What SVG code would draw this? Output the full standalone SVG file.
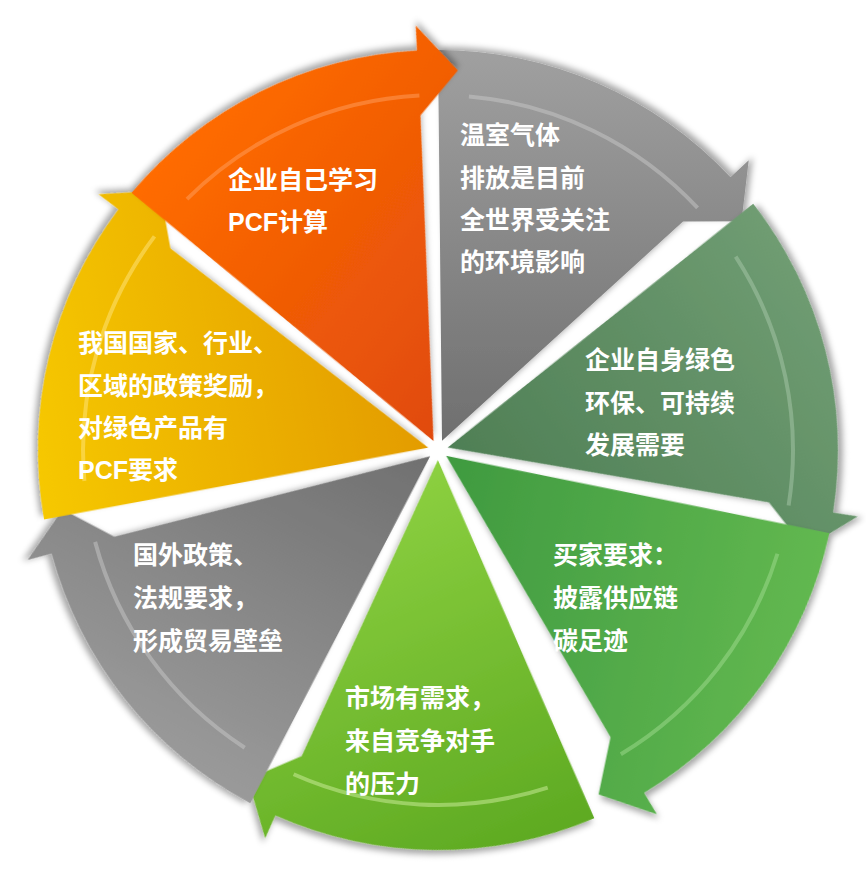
<svg xmlns="http://www.w3.org/2000/svg" width="866" height="869" viewBox="0 0 866 869">
<defs>
<style>
.t{font-family:"Liberation Sans","Noto Sans CJK SC",sans-serif;font-weight:bold;font-size:25px;fill:#fff}
.hl{fill:none;stroke-width:4;stroke-opacity:0.5}
</style>
<filter id="sh" x="-20%" y="-20%" width="140%" height="140%"><feDropShadow dx="3" dy="4" stdDeviation="3" flood-opacity="0.35"/></filter>
<path id="seg" d="M9.2,4 L400,0 A400,400 0 0 1 272.8,292.5 L289.8,310.8 L228.7,303.5 L228.5,245 Z"/>
<path id="arc" d="M353.6,30.9 A355,355 0 0 1 242.1,259.6"/>
<linearGradient id="g0" x1="0" y1="0" x2="1" y2="0"><stop offset="0" stop-color="#6f6f6f"/><stop offset="1" stop-color="#a0a0a0"/></linearGradient>
<linearGradient id="g1" x1="0" y1="0" x2="1" y2="0"><stop offset="0" stop-color="#4f7f55"/><stop offset="1" stop-color="#6f9c72"/></linearGradient>
<linearGradient id="g2" x1="0" y1="0" x2="1" y2="0"><stop offset="0" stop-color="#3f9a40"/><stop offset="1" stop-color="#62b850"/></linearGradient>
<linearGradient id="g3" x1="0" y1="0" x2="1" y2="0"><stop offset="0" stop-color="#8cd040"/><stop offset="1" stop-color="#5eaa22"/></linearGradient>
<linearGradient id="g4" x1="0" y1="0" x2="1" y2="0"><stop offset="0" stop-color="#707070"/><stop offset="1" stop-color="#9a9a9a"/></linearGradient>
<linearGradient id="g5" x1="0" y1="0" x2="1" y2="0"><stop offset="0" stop-color="#e39c00"/><stop offset="1" stop-color="#f6c800"/></linearGradient>
<linearGradient id="g6" x1="0" y1="0" x2="1" y2="0"><stop offset="0" stop-color="#e04a0c"/><stop offset="1" stop-color="#ff6c00"/></linearGradient>
</defs>
<rect width="866" height="869" fill="#fff"/>
<g id="n0" transform="translate(438,450) rotate(-90)"><use href="#seg" fill="url(#g0)" filter="url(#sh)"/><use href="#arc" class="hl" stroke="#c8c8c8"/></g>
<g id="n1" transform="translate(438,450) rotate(-38)"><use href="#seg" fill="url(#g1)" filter="url(#sh)"/><use href="#arc" class="hl" stroke="#a8c8aa"/></g>
<g id="n2" transform="translate(438,450) rotate(12)"><use href="#seg" fill="url(#g2)" filter="url(#sh)"/><use href="#arc" class="hl" stroke="#a0dc90"/></g>
<g id="n3" transform="translate(438,450) rotate(67)"><use href="#seg" fill="url(#g3)" filter="url(#sh)"/><use href="#arc" class="hl" stroke="#d0f0a0"/></g>
<g id="n4" transform="translate(438,450) rotate(118)"><use href="#seg" fill="url(#g4)" filter="url(#sh)"/><use href="#arc" class="hl" stroke="#c8c8c8"/></g>
<g id="n5" transform="translate(438,450) rotate(170)"><use href="#seg" fill="url(#g5)" filter="url(#sh)"/><use href="#arc" class="hl" stroke="#ffe680"/></g>
<g id="n6" transform="translate(438,450) rotate(220)"><use href="#seg" fill="url(#g6)" filter="url(#sh)"/><use href="#arc" class="hl" stroke="#ffa060"/></g>
<g id="connectors"/>
<g id="labels">
<text class="t" x="228" y="189">企业自己学习</text>
<text class="t" x="228" y="231">PCF计算</text>
<text class="t" x="460" y="144">温室气体</text>
<text class="t" x="460" y="187">排放是目前</text>
<text class="t" x="460" y="229">全世界受关注</text>
<text class="t" x="460" y="271">的环境影响</text>
<text class="t" x="585" y="369">企业自身绿色</text>
<text class="t" x="585" y="412">环保、可持续</text>
<text class="t" x="585" y="454">发展需要</text>
<text class="t" x="553" y="564">买家要求：</text>
<text class="t" x="553" y="607">披露供应链</text>
<text class="t" x="553" y="650">碳足迹</text>
<text class="t" x="345" y="707">市场有需求，</text>
<text class="t" x="345" y="750">来自竞争对手</text>
<text class="t" x="345" y="793">的压力</text>
<text class="t" x="133" y="564">国外政策、</text>
<text class="t" x="133" y="607">法规要求，</text>
<text class="t" x="133" y="650">形成贸易壁垒</text>
<text class="t" x="78" y="352">我国国家、行业、</text>
<text class="t" x="78" y="395">区域的政策奖励，</text>
<text class="t" x="78" y="437">对绿色产品有</text>
<text class="t" x="78" y="479">PCF要求</text>
</g>
</svg>
